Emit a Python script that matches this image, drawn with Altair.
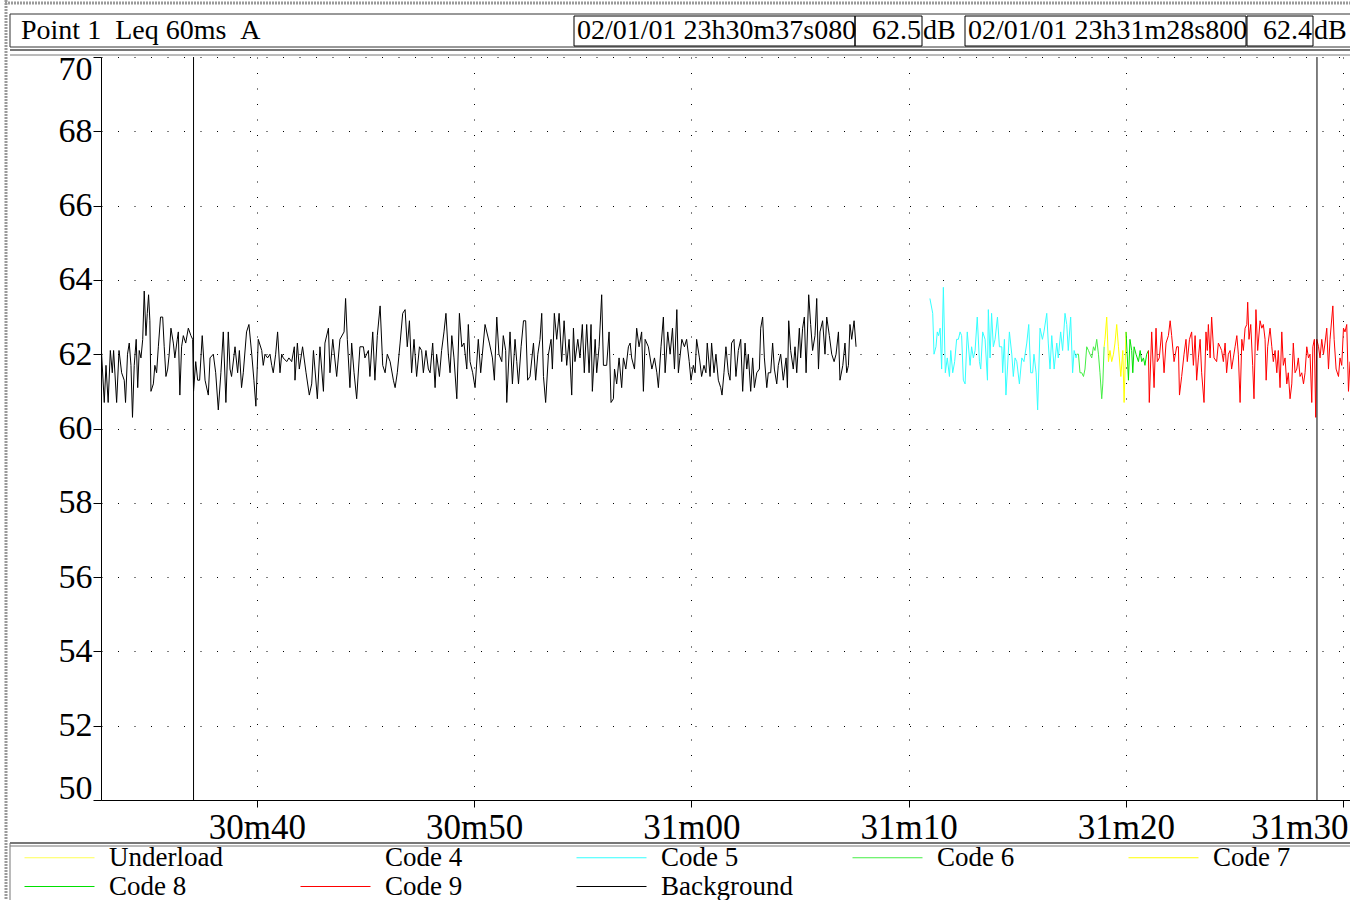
import altair as alt
import pandas as pd

# ---------------- data (seconds after 23h30m00, dB(A)) ----------------
bg1_t = [32.82, 32.97, 33.05, 33.15, 33.25, 33.34, 33.40, 33.54, 33.65, 33.77,
         33.89, 33.95, 34.04, 34.12, 34.20, 34.27, 34.35, 34.44, 34.51, 34.58,
         34.66, 34.74, 34.81, 34.89, 34.95, 35.01, 35.07, 35.12, 35.23, 35.30,
         35.38, 35.46, 35.56, 35.66, 35.73, 35.81, 35.89, 35.96, 36.04, 36.15,
         36.22, 36.33, 36.38, 36.45, 36.53, 36.61, 36.72, 36.84, 36.96, 37.04,
         37.08, 37.18, 37.27, 37.36, 37.48, 37.61, 37.76, 37.84, 37.99, 38.10,
         38.22, 38.34, 38.45, 38.57, 38.68, 38.76, 38.83, 38.99, 39.11, 39.19,
         39.29, 39.37, 39.52, 39.63, 39.76, 39.86, 39.95, 40.06, 40.22, 40.29,
         40.37, 40.49, 40.60, 40.68, 40.75, 40.86, 40.95, 41.06, 41.14, 41.21,
         41.37, 41.47, 41.60, 41.72]
bg1_v = [62.3, 60.7, 61.7, 60.7, 62.1, 61.5, 62.1, 60.7, 62.1, 61.5,
         61.3, 60.7, 62.0, 62.3, 61.7, 60.3, 61.7, 62.4, 61.1, 62.1,
         61.9, 62.4, 63.7, 62.5, 63.1, 63.6, 62.9, 61.0, 61.2, 61.7,
         61.5, 62.2, 63.0, 63.0, 62.2, 61.4, 61.6, 62.0, 62.7, 62.3,
         61.9, 62.4, 62.6, 60.9, 62.2, 62.5, 62.3, 62.7, 62.5, 62.4,
         61.0, 61.8, 61.3, 61.3, 62.5, 61.3, 60.9, 61.9, 62.0, 61.5,
         60.5, 61.5, 62.6, 60.7, 62.6, 61.6, 61.4, 62.2, 61.5, 62.1,
         61.1, 61.5, 62.6, 62.8, 62.0, 61.3, 60.6, 62.4, 62.1, 61.7,
         62.0, 61.9, 62.0, 61.7, 61.5, 62.0, 62.6, 61.5, 62.0, 61.9,
         61.8, 61.9, 61.8, 62.2]

bg2_t = [41.75, 41.86, 41.95, 42.10, 42.26, 42.41, 42.52, 42.60, 42.78, 42.90,
         43.06, 43.13, 43.29, 43.36, 43.49, 43.67, 43.82, 44.01, 44.08, 44.16,
         44.28, 44.36, 44.47, 44.59, 44.74, 44.90, 44.97, 45.13, 45.20, 45.33,
         45.43, 45.54, 45.67, 45.79, 45.90, 46.00, 46.13, 46.28, 46.36, 46.46,
         46.59, 46.71, 46.82, 46.92, 47.02, 47.12, 47.23, 47.35, 47.48, 47.58,
         47.66, 47.78, 47.89, 47.97, 48.09, 48.20, 48.27, 48.40, 48.50, 48.61,
         48.70, 48.81, 48.89, 48.97, 49.07, 49.20, 49.32, 49.43, 49.53, 49.66,
         49.73, 49.81, 49.93, 50.04, 50.19, 50.30, 50.50, 50.70]
bg2_v = [61.3, 62.3, 61.6, 62.2, 61.5, 60.9, 61.2, 62.1, 60.8, 62.2,
         61.0, 62.3, 62.7, 61.5, 62.4, 61.4, 62.4, 62.6, 63.5, 62.4,
         61.1, 62.3, 61.5, 60.8, 62.2, 62.2, 61.9, 62.1, 61.4, 62.6,
         61.3, 62.5, 63.3, 61.7, 61.5, 62.0, 61.8, 61.3, 61.1, 61.5,
         62.3, 63.1, 63.2, 62.2, 62.9, 61.5, 62.4, 61.4, 62.2, 62.1,
         61.5, 62.1, 61.6, 61.5, 62.3, 61.1, 62.0, 61.4, 62.1, 62.6,
         63.1, 62.0, 61.5, 62.5, 61.9, 60.8, 63.1, 62.2, 62.3, 61.6,
         62.8, 61.8, 61.5, 61.1, 62.4, 61.5, 62.8, 62.3]

bg3_t = [50.84, 50.93, 51.04, 51.14, 51.27, 51.34, 51.45, 51.50, 51.65, 51.76,
         51.88, 51.96, 52.04, 52.16, 52.27, 52.37, 52.46, 52.57, 52.73, 52.83,
         52.93, 53.03, 53.11, 53.19, 53.29, 53.42, 53.54, 53.60, 53.69, 53.80,
         53.91, 54.03, 54.14, 54.26, 54.37, 54.49, 54.57, 54.64, 54.77, 54.87,
         54.98, 55.07, 55.18, 55.29, 55.38, 55.44, 55.57, 55.64, 55.75, 55.87,
         55.95, 56.10, 56.21, 56.30, 56.41, 56.46, 56.56, 56.67, 56.79, 56.87,
         56.98, 57.10, 57.18, 57.25, 57.38, 57.48, 57.59, 57.71, 57.79, 57.87,
         58.02, 58.18, 58.30, 58.41, 58.48, 58.60, 58.71, 58.79, 58.91, 59.02,
         59.13, 59.22, 59.33, 59.40, 59.56, 59.68]
bg3_v = [61.9, 61.3, 63.0, 62.0, 61.8, 62.5, 62.1, 60.7, 62.6, 61.2,
         62.4, 61.8, 61.2, 62.2, 62.9, 62.9, 61.3, 61.4, 62.3, 61.3,
         62.0, 62.4, 63.1, 61.4, 60.7, 62.0, 62.4, 61.6, 63.1, 62.4,
         63.1, 61.8, 62.9, 61.7, 62.4, 60.9, 62.7, 61.8, 62.4, 61.9,
         62.8, 61.5, 62.8, 61.5, 62.8, 61.0, 62.4, 61.5, 62.2, 63.6,
         61.7, 61.7, 62.6, 60.7, 60.8, 61.6, 61.2, 61.9, 61.1, 61.9,
         61.6, 62.2, 62.3, 61.9, 61.6, 62.7, 62.2, 62.6, 61.0, 62.4,
         62.2, 61.6, 61.9, 61.5, 61.1, 62.2, 63.0, 61.5, 62.6, 62.0,
         62.7, 61.6, 63.2, 61.5, 62.4, 62.2]

bg4_t = [59.78, 59.90, 59.98, 60.09, 60.17, 60.24, 60.37, 60.47, 60.58, 60.67,
         60.73, 60.86, 60.93, 61.04, 61.13, 61.24, 61.35, 61.41, 61.50, 61.59,
         61.70, 61.78, 61.85, 61.96, 62.05, 62.16, 62.27, 62.36, 62.47, 62.55,
         62.62, 62.73, 62.82, 62.90, 63.01, 63.13, 63.19, 63.28, 63.36, 63.47,
         63.54, 63.65, 63.74, 63.82, 63.93, 64.00, 64.11, 64.23, 64.36, 64.42,
         64.48, 64.57, 64.69, 64.77, 64.85, 64.97, 65.03, 65.12, 65.20, 65.28,
         65.40, 65.49, 65.58, 65.69, 65.77, 65.85, 65.92, 66.04, 66.15, 66.23,
         66.35, 66.46, 66.57, 66.66, 66.77, 66.84, 66.97, 67.07, 67.15, 67.23,
         67.30, 67.38, 67.49, 67.58]
bg4_v = [62.4, 61.8, 61.3, 61.7, 61.5, 62.4, 61.9, 61.4, 61.7, 61.5,
         62.3, 61.4, 62.3, 61.5, 62.0, 61.3, 61.1, 60.9, 61.5, 62.2,
         61.5, 61.3, 62.3, 62.4, 61.4, 62.1, 62.4, 61.0, 62.3, 61.6,
         62.0, 61.0, 61.9, 61.1, 61.5, 61.6, 62.7, 63.0, 61.9, 61.1,
         61.5, 61.5, 62.3, 61.6, 61.2, 61.7, 62.0, 61.3, 61.9, 61.1,
         62.9, 62.1, 61.6, 62.2, 61.5, 62.7, 61.9, 62.7, 63.0, 61.5,
         63.6, 62.8, 62.1, 62.5, 63.5, 61.6, 62.6, 62.9, 62.0, 63.0,
         62.5, 62.0, 61.8, 62.0, 62.6, 61.3, 61.7, 62.3, 61.5, 61.7,
         62.8, 62.4, 62.9, 62.2]

c5_t = [70.98, 71.11, 71.17, 71.26, 71.32, 71.38, 71.45, 71.52, 71.60, 71.69,
        71.78, 71.88, 71.94, 72.03, 72.12, 72.21, 72.29, 72.37, 72.44, 72.52,
        72.60, 72.70, 72.83, 72.90, 72.98, 73.06, 73.16, 73.26, 73.32, 73.41,
        73.52, 73.63, 73.67, 73.75, 73.82, 73.90, 73.98, 74.09, 74.18, 74.29,
        74.33, 74.41, 74.48, 74.55, 74.64, 74.75, 74.82, 74.90, 74.98, 75.10,
        75.21, 75.31, 75.44, 75.53, 75.62, 75.71, 75.77, 75.87, 75.94, 76.05,
        76.16, 76.23, 76.36, 76.43, 76.51, 76.59, 76.70, 76.82, 76.89, 77.00,
        77.09, 77.20, 77.28, 77.35, 77.46, 77.55, 77.62, 77.71, 77.74]
c5_v = [63.5, 63.1, 62.0, 62.2, 62.6, 62.5, 62.7, 61.6, 63.8, 61.5,
        61.9, 61.4, 62.1, 61.5, 61.8, 62.4, 62.4, 62.6, 62.5, 61.3,
        61.2, 62.6, 61.7, 62.2, 61.9, 62.1, 63.0, 61.8, 61.6, 62.6,
        62.4, 61.3, 63.2, 61.9, 63.1, 62.2, 62.4, 63.0, 62.2, 62.2,
        61.5, 62.4, 60.9, 61.6, 62.6, 62.0, 61.4, 61.9, 61.8, 61.2,
        61.9, 61.8, 62.3, 62.8, 61.5, 61.5, 62.0, 61.5, 60.5, 62.7,
        62.4, 62.6, 63.1, 62.3, 61.6, 62.5, 61.6, 62.3, 61.9, 62.6,
        62.1, 63.1, 62.8, 62.1, 63.0, 61.5, 62.1, 61.9, 62.0]

c6_t = [77.74, 77.82, 77.89, 77.97, 78.05, 78.12, 78.20, 78.28, 78.35, 78.43,
        78.51, 78.58, 78.66, 78.74, 78.81, 78.89, 78.94, 79.00]
c6_v = [62.0, 62.0, 61.5, 61.5, 61.4, 61.6, 62.2, 62.1, 62.0, 61.9,
        62.2, 62.1, 62.4, 62.0, 61.5, 60.8, 61.2, 62.2]

c7_t = [79.00, 79.04, 79.12, 79.20, 79.27, 79.35, 79.43, 79.50, 79.58, 79.66,
        79.77, 79.86, 79.92, 80.01]
c7_v = [62.2, 62.4, 63.0, 61.8, 62.1, 61.8, 62.0, 62.3, 62.8, 62.2,
        61.4, 62.1, 60.7, 62.6]

c8_t = [80.01, 80.12, 80.19, 80.27, 80.32, 80.38, 80.47, 80.58, 80.66, 80.73,
        80.81, 80.88, 80.96, 81.04]
c8_v = [62.6, 61.3, 62.4, 62.1, 61.5, 62.2, 62.0, 61.8, 62.1, 61.8,
        61.9, 61.7, 62.0, 62.1]

c9_t = [81.04, 81.08, 81.19, 81.30, 81.39, 81.45, 81.54, 81.65, 81.76, 81.85,
        81.96, 82.04, 82.11, 82.22, 82.34, 82.42, 82.47, 82.57, 82.68, 82.77,
        82.83, 82.93, 83.03, 83.11, 83.19, 83.26, 83.34, 83.42, 83.49, 83.60,
        83.69, 83.75, 83.80, 83.88, 83.95, 84.06, 84.18, 84.26, 84.34, 84.41,
        84.49, 84.57, 84.64, 84.72, 84.80, 84.87, 84.95, 85.03, 85.11, 85.18,
        85.26, 85.34, 85.41, 85.49, 85.57, 85.61, 85.67, 85.75, 85.84, 85.90,
        85.99, 86.07, 86.18, 86.26, 86.33, 86.41, 86.46, 86.53, 86.64, 86.72,
        86.79, 86.87, 86.95, 87.02, 87.10, 87.18, 87.25, 87.33, 87.41, 87.48,
        87.56, 87.64, 87.71, 87.79, 87.87, 87.94, 88.02, 88.10, 88.18, 88.25,
        88.33, 88.41, 88.48, 88.56, 88.61, 88.68, 88.74, 88.79, 88.87, 88.94,
        89.02, 89.10, 89.17, 89.25, 89.33, 89.40, 89.53, 89.59, 89.68, 89.79,
        89.86, 89.94, 90.02, 90.09, 90.17, 90.25, 90.32]
c9_v = [62.1, 60.7, 62.6, 61.1, 62.7, 61.8, 61.9, 62.6, 61.5, 62.3,
        62.5, 62.9, 62.5, 61.8, 62.2, 62.2, 60.9, 61.4, 62.0, 62.4,
        61.8, 62.4, 62.6, 61.7, 62.5, 61.3, 61.9, 62.4, 61.5, 60.7,
        62.6, 62.1, 62.8, 61.9, 63.0, 61.9, 61.8, 62.3, 62.2, 62.1,
        61.8, 62.3, 61.5, 62.0, 62.1, 61.6, 61.9, 62.2, 62.5, 62.0,
        60.7, 62.4, 62.1, 62.7, 62.8, 63.4, 62.4, 62.8, 61.7, 60.8,
        63.2, 62.1, 62.9, 62.7, 62.8, 62.4, 61.3, 62.2, 62.7, 62.2,
        61.8, 62.1, 61.5, 62.1, 61.1, 62.6, 61.7, 61.9, 61.2, 61.5,
        60.8, 61.2, 62.3, 61.5, 61.6, 61.9, 61.4, 61.5, 61.2, 61.5,
        62.2, 61.9, 62.0, 60.7, 62.2, 62.4, 60.3, 62.4, 62.2, 61.9,
        62.4, 62.0, 62.3, 62.7, 61.6, 62.4, 63.3, 62.4, 61.6, 61.4,
        61.9, 61.7, 62.7, 62.6, 62.8, 61.0, 61.8]

legend_codes = ["Underload", "Code 4", "Code 5", "Code 6", "Code 7",
                "Code 8", "Code 9", "Background"]
legend_colors = ["#ffff55", "#ffffff", "#33ffff", "#44ee44", "#ffff00",
                 "#00e000", "#ff0000", "#000000"]

x_tick_values = [40, 50, 60, 70, 80, 90]
x_tick_labels = ["30m40", "30m50", "31m00", "31m10", "31m20", "31m30"]
y_tick_values = [50, 52, 54, 56, 58, 60, 62, 64, 66, 68, 70]
x_domain = [32.82, 90.32]
y_domain = [50, 70]

cursor_times = [37.08, 88.80]
cursor_stamps = ["02/01/01 23h30m37s080", "02/01/01 23h31m28s800"]
cursor_levels = ["62.5", "62.4"]
header_title = "Point 1\u00a0\u00a0Leq 60ms\u00a0\u00a0A"
unit = "dB"

# ---------------- build table ----------------
segments = [
    ("Background", "bg", bg1_t, bg1_v),
    ("Background", "bg", bg2_t, bg2_v),
    ("Background", "bg", bg3_t, bg3_v),
    ("Background", "bg", bg4_t, bg4_v),
    ("Code 5", "c5", c5_t, c5_v),
    ("Code 6", "c6", c6_t, c6_v),
    ("Code 7", "c7", c7_t, c7_v),
    ("Code 8", "c8", c8_t, c8_v),
    ("Code 9", "c9", c9_t, c9_v),
]
rows = []
for code, seg, ts, vs in segments:
    for t, v in zip(ts, vs):
        rows.append({"t": t, "v": v, "code": code, "seg": seg})
df = pd.DataFrame(rows)

label_expr = "''"
for val, lab in reversed(list(zip(x_tick_values, x_tick_labels))):
    label_expr = f"datum.value == {val} ? '{lab}' : ({label_expr})"

SERIF = "Liberation Serif"
W, H = 1249, 743

lines = alt.Chart(df).mark_line(strokeWidth=1, clip=True).encode(
    x=alt.X("t:Q", scale=alt.Scale(domain=x_domain, nice=False, zero=False),
            axis=alt.Axis(values=x_tick_values, labelExpr=label_expr, title=None,
                          labelFont=SERIF, labelFontSize=35, labelColor="black",
                          labelFlush=10, labelFlushOffset=5, labelOverlap=False,
                          labelPadding=3,
                          tickSize=7, tickColor="black", domainColor="black",
                          grid=True, gridColor="black", gridDash=[1, 14.5],
                          gridOpacity=1)),
    y=alt.Y("v:Q", scale=alt.Scale(domain=y_domain, nice=False, zero=False),
            axis=alt.Axis(values=y_tick_values, title=None, format="d",
                          labelFont=SERIF, labelFontSize=34, labelColor="black",
                          labelFlush=True, labelFlushOffset=5, labelPadding=1,
                          tickSize=8,
                          tickColor="black", domainColor="black",
                          grid=True, gridColor="black", gridDash=[1, 15.5],
                          gridOpacity=1)),
    color=alt.Color("code:N",
                    scale=alt.Scale(domain=legend_codes, range=legend_colors),
                    legend=alt.Legend(title=None, orient="none", direction="horizontal",
                                      legendX=-55, legendY=787, columns=5,
                                      gridAlign="all",
                                      symbolType="M-7,0H7", symbolSize=100,
                                      symbolStrokeWidth=1, labelFont=SERIF,
                                      labelFontSize=27, labelColor="black",
                                      labelOffset=36, columnPadding=57,
                                      rowPadding=1, padding=0, labelLimit=300)),
    detail="seg:N",
    order="t:Q",
)

cursors = alt.Chart(pd.DataFrame({"t": cursor_times})).mark_rule(
    color="black", strokeWidth=1).encode(x="t:Q")

dummy = pd.DataFrame({"k": [0]})


def box(x1, y1, x2, y2, color="black", width=1):
    return alt.Chart(dummy).mark_rect(filled=False, stroke=color, strokeWidth=width).encode(
        x=alt.value(x1), x2=alt.value(x2), y=alt.value(y1), y2=alt.value(y2))


def hline(x1, x2, y, color, width, dash=None):
    props = dict(color=color, strokeWidth=width)
    if dash:
        props["strokeDash"] = dash
    return alt.Chart(dummy).mark_rule(**props).encode(
        x=alt.value(x1), x2=alt.value(x2), y=alt.value(y))


def vline(x, y1, y2, color, width, dash=None):
    props = dict(color=color, strokeWidth=width)
    if dash:
        props["strokeDash"] = dash
    return alt.Chart(dummy).mark_rule(**props).encode(
        x=alt.value(x), y=alt.value(y1), y2=alt.value(y2))


def label(x, y, s, align="left", size=28):
    return alt.Chart(dummy).mark_text(text=s, align=align, baseline="alphabetic",
                                      font=SERIF, fontSize=size, color="black").encode(
        x=alt.value(x), y=alt.value(y))


deco = [
    vline(-95, -57, 843, "#9a9a9a", 3, [2, 1]),
    hline(-96, W, -54, "#9a9a9a", 3, [2, 1]),
    box(-91, -43, W + 10, -10, "#333333", 1),
    box(473, -41, 754, -11),
    box(754, -41, 821, -11),
    box(864, -41, 1145, -11),
    box(1146, -41, 1212, -11),
    hline(-91, W, -7, "#777777", 2),
    hline(-91, W, -2, "#777777", 1),
    hline(-91, W, 786, "#777777", 2),
    hline(-91, W, 789, "#777777", 1),
    vline(-91, 786, 843, "#777777", 1),
    label(-80, -18, header_title),
    label(476, -18, cursor_stamps[0]),
    label(820, -18, cursor_levels[0], "right"),
    label(822, -18, unit),
    label(867, -18, cursor_stamps[1]),
    label(1211, -18, cursor_levels[1], "right"),
    label(1213, -18, unit),
]

chart = alt.layer(lines, cursors, *deco).properties(
    width=W, height=H,
    autosize=alt.AutoSizeParams(type="none"),
    padding={"left": 101, "top": 57, "right": 0, "bottom": 100},
    background="white",
).configure_view(stroke=None)

chart.save("out.html", embed_options={"renderer": "svg", "actions": False})
